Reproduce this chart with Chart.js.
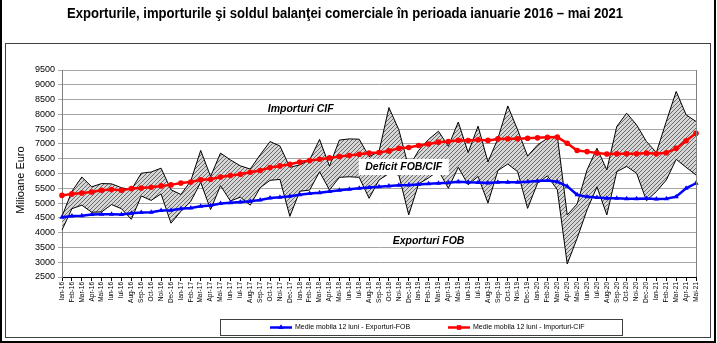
<!DOCTYPE html>
<html>
<head>
<meta charset="utf-8">
<script src="https://cdn.jsdelivr.net/npm/chart.js@4.4.1/dist/chart.umd.min.js"></script>
<style>
  html, body { margin: 0; padding: 0; background: #fff; }
  #wrap { width: 717px; height: 343px; }
</style>
</head>
<body>
<div id="wrap"><canvas id="grafic" width="717" height="343"></canvas></div>
<script>
// Luni (ianuarie 2016 - mai 2021)
const luni = [
  'Ian-16','Feb-16','Mar-16','Apr-16','Mai-16','Iun-16','Iul-16','Aug-16','Sep-16','Oct-16','Noi-16','Dec-16',
  'Ian-17','Feb-17','Mar-17','Apr-17','Mai-17','Iun-17','Iul-17','Aug-17','Sep-17','Oct-17','Noi-17','Dec-17',
  'Ian-18','Feb-18','Mar-18','Apr-18','Mai-18','Iun-18','Iul-18','Aug-18','Sep-18','Oct-18','Noi-18','Dec-18',
  'Ian-19','Feb-19','Mar-19','Apr-19','Mai-19','Iun-19','Iul-19','Aug-19','Sep-19','Oct-19','Noi-19','Dec-19',
  'Ian-20','Feb-20','Mar-20','Apr-20','Mai-20','Iun-20','Iul-20','Aug-20','Sep-20','Oct-20','Noi-20','Dec-20',
  'Ian-21','Feb-21','Mar-21','Apr-21','Mai-21'
];

// Importuri CIF lunare (mil. euro)
const importuri = [
  4550, 5400, 5880, 5550, 5660, 5650, 5520, 5450, 6010, 6050, 6180, 5450,
  5290, 5750, 6780, 5900, 6690, 6460, 6260, 6150, 6630, 7080, 6930, 6210,
  6290, 6460, 7150, 6250, 7130, 7170, 7160, 6570, 6740, 8230, 7480, 6200,
  6780, 7150, 7430, 6920, 7740, 6710, 7600, 6390, 7180, 8285, 7470, 6590,
  6965, 7190, 7270, 4600, 4970, 6120, 6855, 6120, 7590, 8040, 7645, 7080,
  6710, 7760, 8775, 7985, 7760
];

// Exporturi FOB lunare (mil. euro)
const exporturi = [
  4090, 4810, 4930, 4690, 4700, 4950, 4810, 4450, 5240, 5090, 5310, 4320,
  4720, 5060, 5700, 4780, 5590, 5070, 5200, 4930, 5520, 5770, 5800, 4550,
  5400, 5440, 6060, 5440, 5870, 5890, 5870, 5160, 5780, 6000, 5950, 4600,
  5650, 5850, 6100, 5500, 6210, 5620, 5900, 5000, 6100, 6320, 6060, 4820,
  5670, 5920, 5450, 2940, 3810, 4770, 5550, 4600, 6060, 6240, 6010, 5080,
  5390, 5780, 6480, 6210, 5950
];

// Medie mobila 12 luni - exporturi FOB
const medieExport = [
  4520, 4565, 4575, 4610, 4620, 4620, 4610, 4655, 4680, 4690, 4745, 4760,
  4810, 4835, 4890, 4915, 4985, 5010, 5040, 5060, 5105, 5170, 5200, 5230,
  5280, 5320, 5350, 5390, 5430, 5470, 5500, 5530, 5550, 5580, 5600, 5610,
  5630, 5650, 5670, 5690, 5720, 5700, 5695, 5680, 5700, 5705, 5705, 5720,
  5745, 5760, 5720, 5570, 5280, 5210, 5190, 5165, 5160, 5145, 5150, 5155,
  5140, 5145, 5215, 5500, 5670
];

// Medie mobila 12 luni - importuri CIF
const medieImport = [
  5260, 5310, 5340, 5375, 5430, 5455, 5430, 5490, 5510, 5535, 5580, 5615,
  5680, 5710, 5785, 5805, 5880, 5930, 5975, 6040, 6100, 6200, 6257, 6313,
  6390, 6437, 6482, 6527, 6573, 6607, 6650, 6690, 6710, 6765, 6855, 6880,
  6945, 7000, 7060, 7080, 7125, 7115, 7140, 7120, 7170, 7175, 7175, 7190,
  7205, 7225, 7230, 7025, 6780, 6740, 6690, 6660, 6665, 6665, 6665, 6690,
  6665, 6700, 6850, 7110, 7360
];

const FONT = "'Liberation Sans', Arial, sans-serif";
const titlu = 'Exporturile, importurile şi soldul balanţei comerciale în perioada ianuarie 2016 – mai 2021';

// hasura pentru zona dintre importuri si exporturi
function hasura() {
  const c = document.createElement('canvas');
  c.width = 4; c.height = 4;
  const g = c.getContext('2d');
  g.fillStyle = '#d6d6d6';
  g.fillRect(0, 0, 4, 4);
  g.strokeStyle = '#5e5e5e';
  g.lineWidth = 0.9;
  g.beginPath();
  g.moveTo(0, 4); g.lineTo(4, 0);
  g.moveTo(-1, 1); g.lineTo(1, -1);
  g.moveTo(3, 5); g.lineTo(5, 3);
  g.stroke();
  return g.createPattern(c, 'repeat');
}

function text(ctx, s, x, y, font, align) {
  ctx.font = font;
  ctx.textAlign = align || 'center';
  ctx.textBaseline = 'middle';
  ctx.fillStyle = '#000';
  ctx.fillText(s, x, y);
}

const decor = {
  id: 'decor',
  afterDatasetsDraw(chart) {
    const ctx = chart.ctx;
    const x = chart.scales.x, y = chart.scales.y;
    ctx.save();
    // etichete in zona graficului
    text(ctx, 'Importuri CIF', x.getPixelForValue(24.1), y.getPixelForValue(8180), `italic bold 10.5px ${FONT}`);
    const dx = x.getPixelForValue(34.5), dy = y.getPixelForValue(6220);
    ctx.fillStyle = '#fff';
    ctx.fillRect(dx - 45, dy - 8, 90, 16);
    text(ctx, 'Deficit FOB/CIF', dx, dy, `italic bold 10.5px ${FONT}`);
    text(ctx, 'Exporturi FOB', x.getPixelForValue(37), y.getPixelForValue(3720), `italic bold 10.5px ${FONT}`);
    // chenarul din dreapta al zonei de plotare
    const a = chart.chartArea;
    ctx.strokeStyle = '#808080';
    ctx.lineWidth = 1;
    ctx.beginPath();
    ctx.moveTo(Math.round(a.right) + 0.5, a.top);
    ctx.lineTo(Math.round(a.right) + 0.5, a.bottom);
    ctx.stroke();
    ctx.restore();
  },
  afterDraw(chart) {
    const ctx = chart.ctx;
    ctx.save();
    // titlu
    ctx.font = `bold 14px 'Liberation Sans Narrow', ${FONT}`;
    let w = ctx.measureText(titlu).width;
    ctx.textAlign = 'center';
    ctx.textBaseline = 'middle';
    ctx.fillStyle = '#000';
    if (w > 556) {
      ctx.translate(345, 14);
      ctx.scale(556 / w, 1);
      ctx.fillText(titlu, 0, 0);
      ctx.setTransform(1, 0, 0, 1, 0, 0);
    } else {
      ctx.fillText(titlu, 345, 14);
    }
    // chenare
    ctx.strokeStyle = '#000';
    ctx.lineWidth = 2;
    ctx.beginPath();
    ctx.moveTo(1, 0); ctx.lineTo(1, 342);
    ctx.lineTo(715, 342); ctx.lineTo(715, 0);
    ctx.stroke();
    ctx.strokeStyle = '#404040';
    ctx.lineWidth = 1;
    ctx.strokeRect(5.5, 43.5, 705, 294);
    // titlul axei Y
    ctx.save();
    ctx.translate(21, 180);
    ctx.rotate(-Math.PI / 2);
    text(ctx, 'Milioane Euro', 0, 0, `11px ${FONT}`);
    ctx.restore();
    // legenda
    ctx.strokeStyle = '#404040';
    ctx.strokeRect(220.5, 319.5, 402, 16);
    const ly = 327.5;
    const items = [
      { x: 270, color: '#0000ff', style: 'triangle', r: 3, label: 'Medie mobila 12 luni - Exporturi-FOB' },
      { x: 448, color: '#ff0000', style: 'rect', r: 3, label: 'Medie mobila 12 luni - Importuri-CIF' }
    ];
    items.forEach(it => {
      ctx.strokeStyle = it.color;
      ctx.lineWidth = 2.5;
      ctx.beginPath();
      ctx.moveTo(it.x, ly); ctx.lineTo(it.x + 22, ly);
      ctx.stroke();
      ctx.fillStyle = it.color;
      Chart.helpers.drawPoint(ctx, { pointStyle: it.style, radius: it.r, borderWidth: 0 }, it.x + 11, ly);
      ctx.fill();
      text(ctx, it.label, it.x + 25, ly, `7px ${FONT}`, 'left');
    });
    ctx.restore();
  }
};

const ctx = document.getElementById('grafic').getContext('2d');
new Chart(ctx, {
  type: 'line',
  data: {
    labels: luni,
    datasets: [
      {
        label: 'Importuri CIF',
        data: importuri,
        borderColor: '#000',
        borderWidth: 1,
        pointRadius: 0,
        fill: '+1',
        backgroundColor: hasura(),
        order: 3
      },
      {
        label: 'Exporturi FOB',
        data: exporturi,
        borderColor: '#000',
        borderWidth: 1,
        pointRadius: 0,
        fill: false,
        order: 2
      },
      {
        label: 'Medie mobila 12 luni - Exporturi-FOB',
        data: medieExport,
        borderColor: '#0000ff',
        backgroundColor: '#0000ff',
        borderWidth: 2.5,
        pointStyle: 'triangle',
        pointRadius: 3,
        pointBorderWidth: 0,
        fill: false,
        order: 1
      },
      {
        label: 'Medie mobila 12 luni - Importuri-CIF',
        data: medieImport,
        borderColor: '#ff0000',
        backgroundColor: '#ff0000',
        borderWidth: 2.5,
        pointStyle: 'circle',
        pointRadius: 2.8,
        pointBorderWidth: 0,
        fill: false,
        order: 0
      }
    ]
  },
  options: {
    responsive: false,
    animation: false,
    layout: { padding: { left: 22, right: 21, top: 70, bottom: 26 } },
    plugins: {
      legend: { display: false },
      title: { display: false },
      tooltip: { enabled: false }
    },
    scales: {
      x: {
        offset: false,
        grid: { display: true, drawOnChartArea: false, drawTicks: true, tickLength: 4, color: '#000' },
        border: { display: true, color: '#000' },
        ticks: {
          autoSkip: false,
          minRotation: 90,
          maxRotation: 90,
          padding: 1,
          color: '#000',
          font: { family: FONT, size: 6.5 }
        },
        afterFit: s => { s.height = 40; }
      },
      y: {
        min: 2500,
        max: 9500,
        grid: { color: '#a6a6a6', lineWidth: 1, tickLength: 4 },
        border: { display: true, color: '#808080' },
        ticks: {
          stepSize: 500,
          padding: 3,
          color: '#000',
          font: { family: FONT, size: 9 },
          callback: v => String(v)
        },
        afterFit: s => { s.width = 40; }
      }
    }
  },
  plugins: [decor]
});
</script>
</body>
</html>
